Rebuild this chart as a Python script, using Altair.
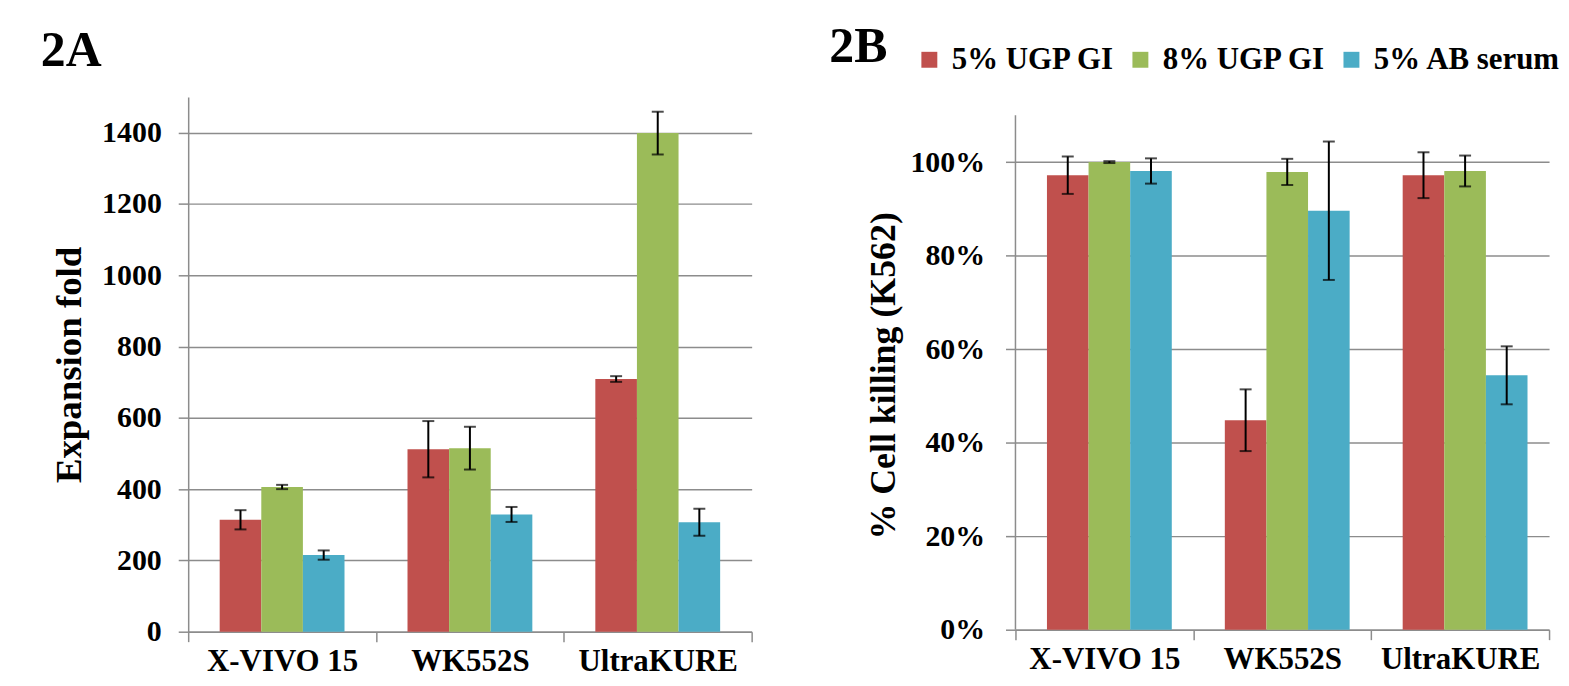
import altair as alt
import pandas as pd

categories = ["X-VIVO 15", "WK552S", "UltraKURE"]
series = ["5% UGP GI", "8% UGP GI", "5% AB serum"]
colors = ["#C0504D", "#9BBB59", "#4BACC6"]

# Panel 2A: expansion fold (mean, error)
a_ugp5 = [314, 512, 709]
a_ugp8 = [406, 515, 1399]
a_ab5 = [215, 329, 307]
a_ugp5_err = [27, 79, 8]
a_ugp8_err = [6, 60, 60]
a_ab5_err = [13, 21, 38]

# Panel 2B: % cell killing (K562)
b_ugp5 = [0.972, 0.448, 0.972]
b_ugp8 = [1.000, 0.979, 0.981]
b_ab5 = [0.981, 0.896, 0.544]
b_ugp5_err = [0.040, 0.066, 0.049]
b_ugp8_err = [0.002, 0.028, 0.033]
b_ab5_err = [0.027, 0.148, 0.062]

a_ticks = [0, 200, 400, 600, 800, 1000, 1200, 1400]
b_ticks = [0, 0.2, 0.4, 0.6, 0.8, 1.0]

FONT = "Liberation Serif"
GRID = "#8c8c8c"


def long_df(vals, errs):
    rows = []
    for s, v_list, e_list in zip(series, vals, errs):
        for c, v, e in zip(categories, v_list, e_list):
            rows.append({"cat": c, "series": s, "value": v, "lo": v - e, "hi": v + e})
    return pd.DataFrame(rows)


df_a = long_df([a_ugp5, a_ugp8, a_ab5], [a_ugp5_err, a_ugp8_err, a_ab5_err])
df_b = long_df([b_ugp5, b_ugp8, b_ab5], [b_ugp5_err, b_ugp8_err, b_ab5_err])

legend = alt.Legend(
    title=None, orient="none", direction="horizontal",
    legendX=729, legendY=-53,
    symbolType="square", symbolSize=256, symbolStrokeWidth=0,
    labelFont=FONT, labelFontSize=31, labelFontWeight="bold", labelColor="black",
    labelOffset=7, columnPadding=10, labelLimit=400, gridAlign="none",
)


def panel(df, width, height, y_max, ticks, fmt, y_title, title_text, title_dx,
          title_offset, label_pad, title_x, title_y, show_domain, title_size,
          axis_top=None):
    x_enc = alt.X(
        "cat:N", sort=categories,
        scale=alt.Scale(paddingInner=0, paddingOuter=0),
        axis=alt.Axis(
            title=None, labelAngle=0, tickBand="extent", tickSize=10,
            tickColor=GRID, tickWidth=1.5, domainColor=GRID, domainWidth=1.5,
            labelFont=FONT, labelFontSize=31, labelFontWeight="bold",
            labelColor="black", labelPadding=5, grid=False,
        ),
    )
    xo = alt.XOffset("series:N", sort=series,
                     scale=alt.Scale(paddingInner=0, paddingOuter=0.757))
    y_axis = alt.Axis(
        values=ticks, format=fmt, title=y_title,
        grid=True, gridColor=GRID, gridWidth=1.5,
        domain=show_domain, domainColor=GRID, domainWidth=1.5,
        tickSize=10, tickColor=GRID, tickWidth=1.5,
        labelFont=FONT, labelFontSize=30, labelFontWeight="bold",
        labelColor="black", labelPadding=label_pad,
        titleFont=FONT, titleFontSize=title_size, titleFontWeight="bold",
        titleColor="black", titleX=title_x, titleY=title_y,
        titleAngle=270, titleBaseline="middle", titleAlign="center",
    )
    y_scale = alt.Scale(domain=[0, y_max], nice=False)

    base = alt.Chart(df)
    bars = base.mark_bar().encode(
        x=x_enc, xOffset=xo,
        y=alt.Y("value:Q", scale=y_scale, axis=y_axis),
        color=alt.Color("series:N", sort=series,
                        scale=alt.Scale(domain=series, range=colors),
                        legend=legend),
    )
    err = base.mark_rule(color="black", strokeWidth=2).encode(
        x=x_enc, xOffset=xo, y=alt.Y("lo:Q", scale=y_scale), y2="hi:Q")
    cap_hi = base.mark_tick(color="black", thickness=2, size=12).encode(
        x=x_enc, xOffset=xo, y=alt.Y("hi:Q", scale=y_scale))
    cap_lo = base.mark_tick(color="black", thickness=2, size=12).encode(
        x=x_enc, xOffset=xo, y=alt.Y("lo:Q", scale=y_scale))
    layers = [bars, err, cap_hi, cap_lo]
    if axis_top is not None:
        axis_line = alt.Chart(pd.DataFrame({"y0": [0.0], "y1": [axis_top]})).mark_rule(
            color=GRID, strokeWidth=1.5).encode(
            x=alt.value(0), y=alt.Y("y0:Q", scale=y_scale), y2="y1:Q")
        layers.append(axis_line)
    return alt.layer(*layers).properties(
        width=width, height=height,
        title=alt.TitleParams(
            title_text, anchor="start", frame="group", font=FONT, fontSize=50,
            fontWeight="bold", color="black", dx=title_dx, offset=title_offset,
            baseline="alphabetic",
        ),
    )


panel_a = panel(df_a, 566, 537, 1500, a_ticks, "d", "Expansion fold", "2A",
                -148, -19, 17, -119, 268.5, True, 37)
panel_b = panel(df_b, 536, 535, 1.139, b_ticks, ".0%", "% Cell killing (K562)", "2B",
                -187, -15, 21, -132, 279.5, False, 36, axis_top=1.1)

chart = alt.hconcat(panel_a, panel_b, spacing=77).resolve_scale(color="shared").configure_view(
    stroke=None).properties(padding={"left": 33, "top": 13, "right": 0, "bottom": 0})

chart.save("out.html", embed_options={"renderer": "svg", "actions": False})
